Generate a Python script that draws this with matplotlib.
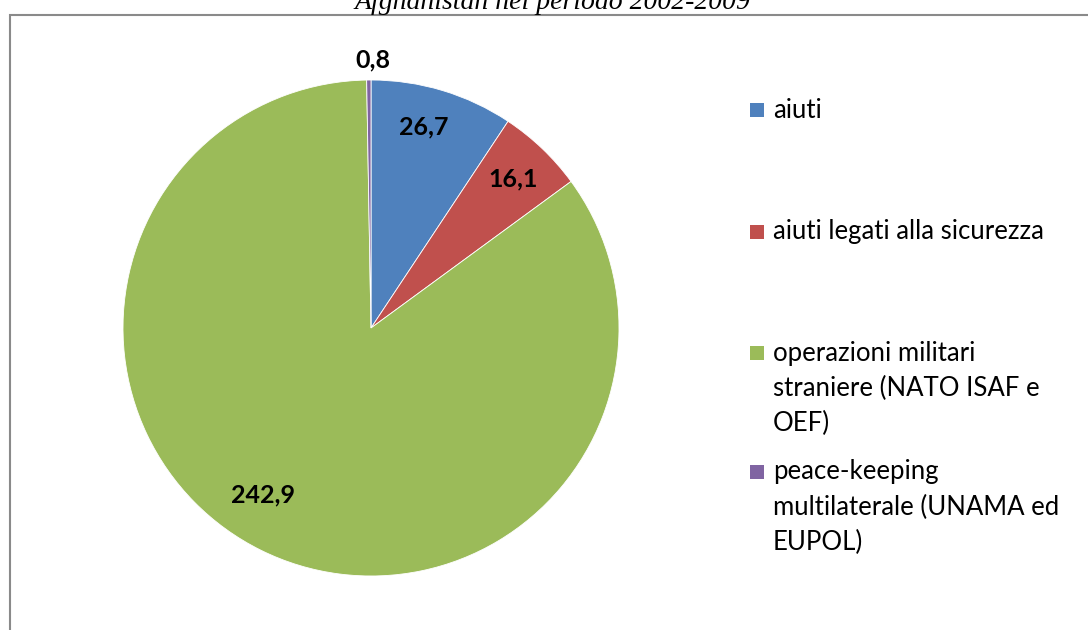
import matplotlib.pyplot as plt
import numpy as np
from matplotlib.patches import Rectangle

# Data
categories = [
    "aiuti",
    "aiuti legati alla sicurezza",
    "operazioni militari\nstraniere (NATO ISAF e\nOEF)",
    "peace-keeping\nmultilaterale (UNAMA ed\nEUPOL)",
]
values = [26.7, 16.1, 242.9, 0.8]
value_labels = ["26,7", "16,1", "242,9", "0,8"]
colors = ["#4F81BD", "#C0504D", "#9BBB59", "#8064A2"]
title = "Afghanistan nel periodo 2002-2009"

W, H = 1088, 630
fig = plt.figure(figsize=(W / 100, H / 100), dpi=100)

# pie centre and radius in pixels
cx, cy, r = 371, 328, 248
ax = fig.add_axes([(cx - r) / W, (H - cy - r) / H, 2 * r / W, 2 * r / H])
wedges, _ = ax.pie(values, colors=colors, startangle=90, counterclock=False,
                   radius=1, wedgeprops=dict(edgecolor="white", linewidth=0.6))
ax.set_xlim(-1, 1)
ax.set_ylim(-1, 1)
ax.set_aspect("equal")
ax.axis("off")

# data label placement (distance from centre, angle tweak in degrees)
label_dist = [0.84, 0.83, 0.80, 1.08]
label_shift = [2, 0, -6.5, -0.8]
for w, lab, d, s in zip(wedges, value_labels, label_dist, label_shift):
    ang = np.deg2rad((w.theta1 + w.theta2) / 2 + s)
    ax.text(d * np.cos(ang), d * np.sin(ang), lab, ha="center", va="center",
            fontsize=18, fontweight="bold", family="Lato", color="black")

# chart border (only top and left visible in the crop)
fig.patches.append(Rectangle((10 / W, -0.1), 1.2, (H - 15) / H + 0.1,
                             transform=fig.transFigure, fill=False,
                             edgecolor="#8a8a8a", linewidth=1.5))

# title, cut off at the top like in the reference
fig.text(552 / W, 1 - 9 / H, title, ha="center", va="baseline",
         fontsize=20, style="italic", family="Liberation Serif", color="black")

# legend drawn manually to keep the uneven spacing
legend_top = [110, 232, 353, 472]
line_h = 35
for y, lab, c in zip(legend_top, categories, colors):
    fig.patches.append(Rectangle((750 / W, 1 - (y + 7) / H), 14 / W, 14 / H,
                                 transform=fig.transFigure, facecolor=c,
                                 edgecolor="none"))
    for i, line in enumerate(lab.split("\n")):
        fig.text(773 / W, 1 - (y + i * line_h) / H, line, ha="left",
                 va="center", fontsize=18.5, family="Lato", color="black")

fig.savefig("out.png", dpi=100)
